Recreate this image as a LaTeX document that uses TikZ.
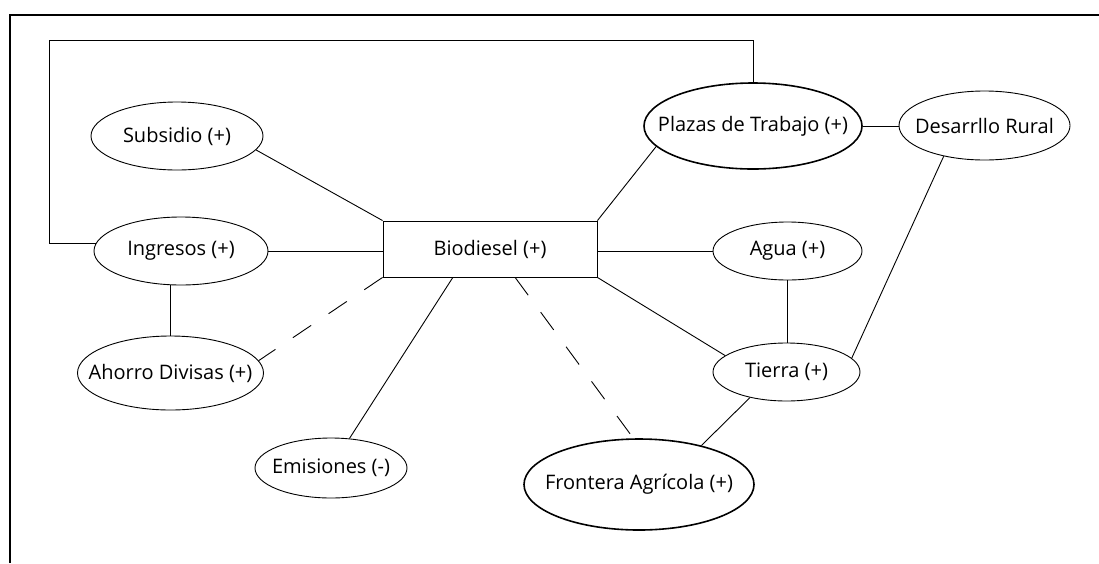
\documentclass[tikz,border=0pt]{standalone}
\usepackage{fontspec}
\setmainfont{Open Sans}
\usetikzlibrary{shapes.geometric,calc}

% label of fixed-size shapes: zero width so the shape keeps its set size
\newcommand{\lbl}[1]{\makebox[0pt][c]{#1}}

\tikzset{
  oval/.style={ellipse, draw, line width=0.9pt, inner sep=0pt,
               font=\fontsize{20}{24}\selectfont},
  bigoval/.style={oval, line width=1.6pt},
  mainbox/.style={rectangle, draw, line width=0.9pt, inner sep=0pt,
                  minimum width=214pt, minimum height=56pt,
                  font=\fontsize{20}{24}\selectfont},
  link/.style={line width=0.9pt},
  weaklink/.style={line width=0.9pt, dash pattern=on 22pt off 21pt},
  frameline/.style={line width=2pt}
}

\begin{document}
\begin{tikzpicture}[x=1pt, y=1pt]
  \useasboundingbox (0,0) rectangle (1099,-563);

  % open frame: top and left edges only
  \draw[frameline] (10,-563) -- (10,-15) -- (1099,-15);

  % central factor
  \node[mainbox] (bio) at (490,-249) {\lbl{Biodiesel (+)}};

  % surrounding factors
  \node[oval, minimum width=172pt, minimum height=68pt] (sub)    at (177,-136)   {\lbl{Subsidio (+)}};
  \node[oval, minimum width=174pt, minimum height=68pt] (ing)    at (181,-251)   {\lbl{Ingresos (+)}};
  \node[oval, minimum width=186pt, minimum height=74pt] (aho)    at (170.5,-373) {\lbl{Ahorro Divisas (+)}};
  \node[oval, minimum width=152pt, minimum height=60pt] (emi)    at (331,-468)   {\lbl{Emisiones (-)}};
  \node[bigoval, minimum width=218pt, minimum height=86pt] (pla) at (753,-126)   {\lbl{Plazas de Trabajo (+)}};
  \node[oval, minimum width=171pt, minimum height=69pt] (des)    at (984.5,-125.5) {\lbl{Desarrllo Rural}};
  \node[oval, minimum width=149pt, minimum height=58pt] (agua)   at (787.5,-251) {\lbl{Agua (+)}};
  \node[oval, minimum width=147pt, minimum height=58pt] (tie)    at (786.5,-372) {\lbl{Tierra (+)}};
  \node[bigoval, minimum width=230pt, minimum height=91pt] (fro) at (639,-484.5) {\lbl{Frontera Agrícola (+)}};

  % attachment points along the bottom edge of the central box
  \coordinate (bioA) at ($(bio.south west)!0.327!(bio.south east)$);
  \coordinate (bioB) at ($(bio.south west)!0.617!(bio.south east)$);
  \coordinate (loop) at (49,-40);

  % feedback loop from income to jobs
  \draw[link] (ing.175) -| (loop) -| (pla.north);

  % solid relations
  \draw[link] (sub.-10) -- (bio.north west);
  \draw[link] (ing.east) -- (ing.east -| bio.west);
  \draw[link] (aho.north) -- (aho.north |- ing.south);
  \draw[link] (bioA) -- (emi.58);
  \draw[link] (bio.north east) -- (pla.192);
  \draw[link] (bio.east |- agua.west) -- (agua.west);
  \draw[link] (bio.south east) -- (tie.165);
  \draw[link] (agua.south) -- (agua.south |- tie.north);
  \draw[link] (pla.east) -- (pla.east -| des.west);
  \draw[link] (des.217) -- (tie.12);
  \draw[link] (tie.215) -- (fro.32);

  % weak relations
  \draw[weaklink] (bio.south west) -- (aho.8);
  \draw[weaklink] (bioB) -- (fro.97);
\end{tikzpicture}
\end{document}
